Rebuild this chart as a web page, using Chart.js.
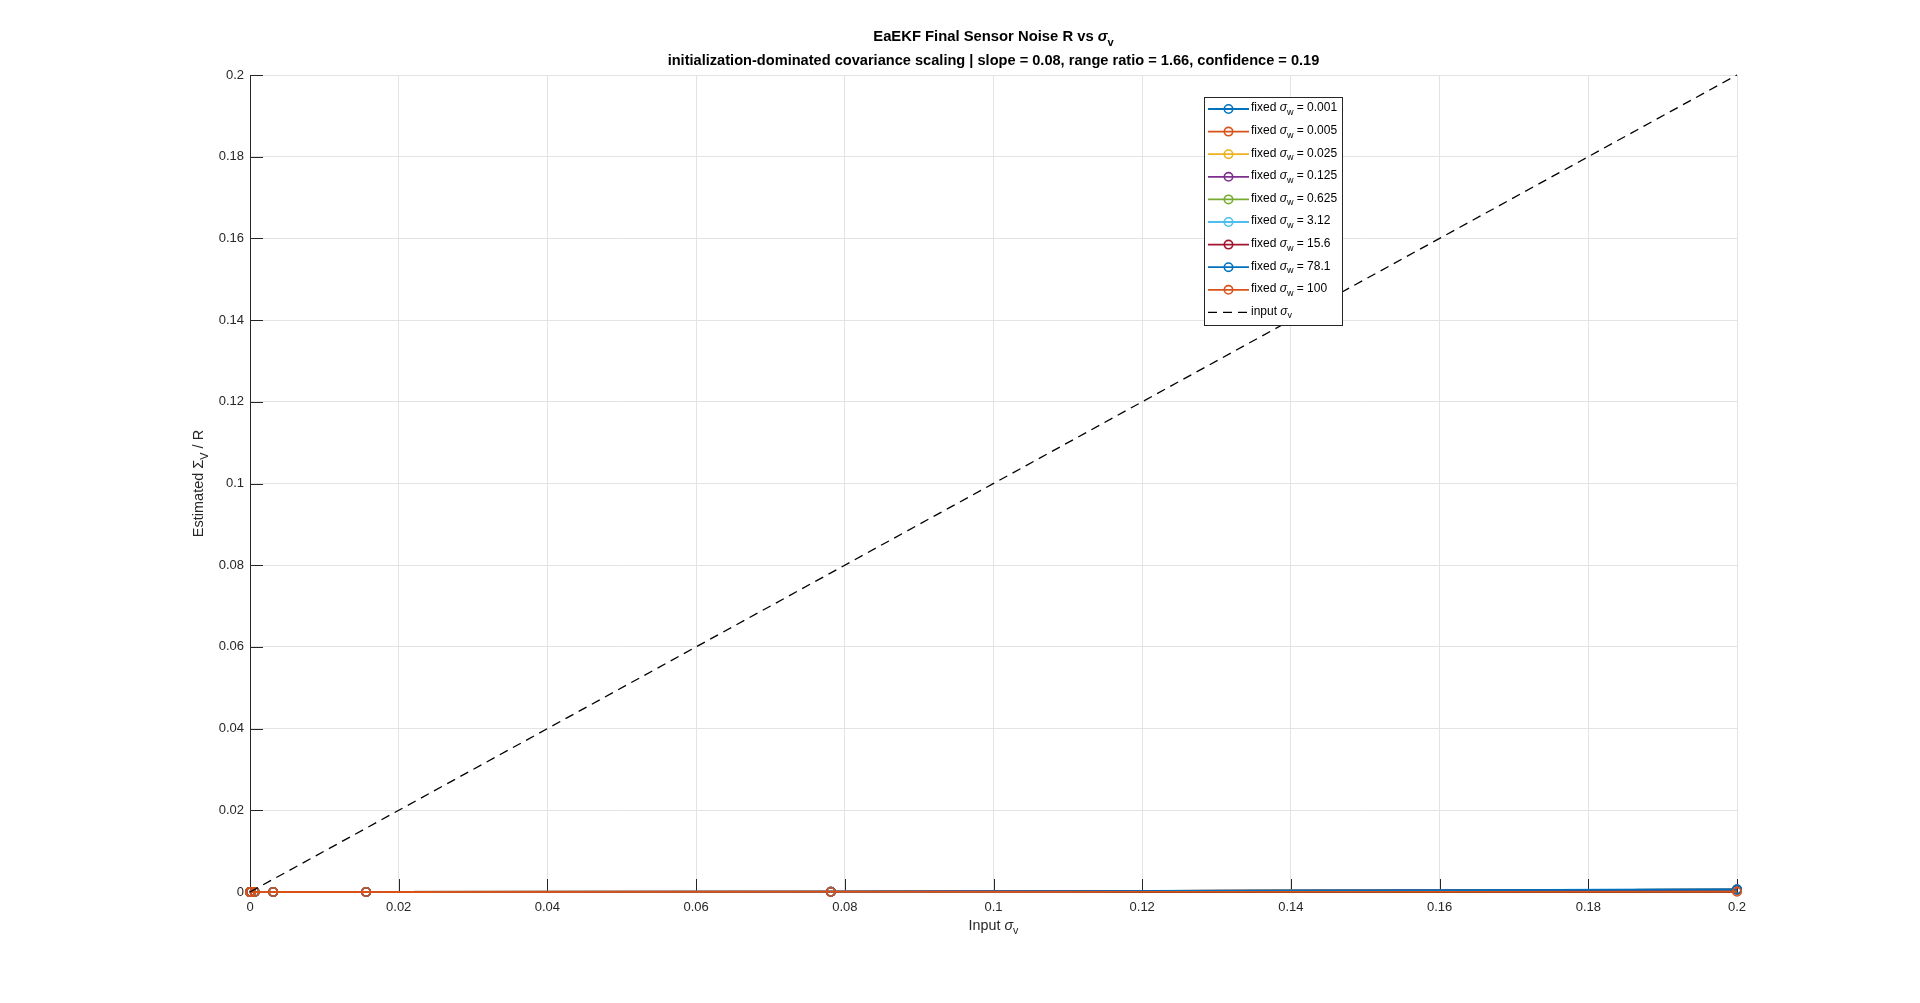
<!DOCTYPE html>
<html>
<head>
<meta charset="utf-8">
<title>EaEKF Final Sensor Noise R vs sigma_v</title>
<script src="https://cdn.jsdelivr.net/npm/chart.js@4.4.1/dist/chart.umd.min.js"></script>
<style>
  html, body { margin: 0; padding: 0; background: #fff; }
  canvas { display: block; }
</style>
</head>
<body>
<canvas id="chart" width="1920" height="1003"></canvas>
<script>
// input sensor noise levels (x axis)
const sigmaV = [0.000001, 0.000005, 0.000025, 0.000125, 0.000625, 0.003125, 0.015625, 0.078125, 0.2];

// fixed process noise per curve
const sigmaW = ['0.001', '0.005', '0.025', '0.125', '0.625', '3.12', '15.6', '78.1', '100'];

// estimated R per curve (all close to zero)
const rW0001 = [0, 0, 0, 0.000001, 0.000002, 0.000005, 0.00002, 0.00006, 0.00058];
const rW0005 = [0, 0, 0, 0.000001, 0.000002, 0.000005, 0.00002, 0.00006, 0.00057];
const rW0025 = [0, 0, 0, 0.000001, 0.000002, 0.000005, 0.00002, 0.00006, 0.00056];
const rW0125 = [0, 0, 0, 0.000001, 0.000002, 0.000005, 0.00002, 0.00006, 0.00055];
const rW0625 = [0, 0, 0, 0.000001, 0.000002, 0.000005, 0.00002, 0.00006, 0.00058];
const rW312  = [0, 0, 0, 0.000001, 0.000002, 0.000006, 0.00003, 0.00008, 0.00066];
const rW156  = [0, 0, 0, 0.000001, 0.000002, 0.000005, 0.00002, 0.00006, 0.00060];
const rW781  = [0, 0, 0, 0.000001, 0.000002, 0.000005, 0.00002, 0.00005, 0.00062];
const rW100  = [0, 0, 0, 0, 0.000001, 0.000002, 0.000004, 0.00001, 0.00004];
const rSeries = [rW0001, rW0005, rW0025, rW0125, rW0625, rW312, rW156, rW781, rW100];

// axis ticks
const xTicks = [0, 0.02, 0.04, 0.06, 0.08, 0.1, 0.12, 0.14, 0.16, 0.18, 0.2];
const yTicks = [0, 0.02, 0.04, 0.06, 0.08, 0.1, 0.12, 0.14, 0.16, 0.18, 0.2];

const colors = ['#0072BD', '#D95319', '#EDB120', '#7E2F8E', '#77AC30', '#4DBEEE', '#A2142F', '#0072BD', '#D95319'];
const FONT = "'Liberation Sans', Arial, Helvetica, sans-serif";
const TEXT = '#262626';

const datasets = sigmaW.map((w, i) => ({
  label: 'fixed σw = ' + w,
  data: sigmaV.map((x, j) => ({ x: x, y: rSeries[i][j] })),
  borderColor: colors[i],
  backgroundColor: 'rgba(0,0,0,0)',
  borderWidth: 1.8,
  pointRadius: 4.2,
  pointBorderWidth: 1.6,
  pointBorderColor: colors[i],
  pointBackgroundColor: 'rgba(0,0,0,0)',
  tension: 0,
  clip: false,
  order: sigmaW.length + 1 - i
}));

datasets.push({
  label: 'input σv',
  data: sigmaV.map(x => ({ x: x, y: x })),
  borderColor: '#000',
  backgroundColor: 'rgba(0,0,0,0)',
  borderWidth: 1.3,
  borderDash: [9, 6],
  pointRadius: 0,
  tension: 0,
  clip: false,
  order: 0
});

// draws text pieces with italic sigma and subscripts
function fontOf(p, size, bold) {
  const s = p.sub ? size * 0.75 : size;
  return (p.it ? 'italic ' : '') + (bold ? 'bold ' : '') + s + 'px ' + FONT;
}
function richWidth(ctx, parts, size, bold) {
  let w = 0;
  parts.forEach(p => {
    ctx.font = fontOf(p, size, bold);
    w += ctx.measureText(p.t).width;
  });
  return w;
}
function drawRich(ctx, parts, x, y, size, bold, align) {
  const total = richWidth(ctx, parts, size, bold);
  let cx = align === 'center' ? x - total / 2 : x;
  ctx.textAlign = 'left';
  ctx.textBaseline = 'middle';
  parts.forEach(p => {
    ctx.font = fontOf(p, size, bold);
    ctx.fillText(p.t, cx, p.sub ? y + size * 0.38 : y);
    cx += ctx.measureText(p.t).width;
  });
}

const innerTicks = {
  id: 'innerTicks',
  beforeDatasetsDraw(chart) {
    const ctx = chart.ctx, ca = chart.chartArea;
    const xs = chart.scales.x, ys = chart.scales.y;
    ctx.save();
    ctx.strokeStyle = TEXT;
    ctx.lineWidth = 1;
    ctx.beginPath();
    xTicks.forEach(v => {
      const px = Math.round(xs.getPixelForValue(v)) + 0.5;
      ctx.moveTo(px, ca.bottom);
      ctx.lineTo(px, ca.bottom - 13);
    });
    yTicks.forEach(v => {
      const py = Math.round(ys.getPixelForValue(v)) + 0.5;
      ctx.moveTo(ca.left, py);
      ctx.lineTo(ca.left + 13, py);
    });
    ctx.stroke();
    ctx.restore();
  }
};

const decorations = {
  id: 'decorations',
  afterDraw(chart) {
    const ctx = chart.ctx, ca = chart.chartArea;
    const midX = (ca.left + ca.right) / 2;
    ctx.save();
    ctx.fillStyle = '#000';

    // title and subtitle
    drawRich(ctx, [{ t: 'EaEKF Final Sensor Noise R vs ' }, { t: 'σ', it: true }, { t: 'v', sub: true }],
      midX, ca.top - 38, 14.8, true, 'center');
    drawRich(ctx, [{ t: 'initialization-dominated covariance scaling | slope = 0.08, range ratio = 1.66, confidence = 0.19' }],
      midX, ca.top - 14, 14.6, true, 'center');

    // axis labels
    ctx.fillStyle = TEXT;
    drawRich(ctx, [{ t: 'Input ' }, { t: 'σ', it: true }, { t: 'v', sub: true }],
      midX, ca.bottom + 34, 14.3, false, 'center');
    ctx.save();
    ctx.translate(ca.left - 51, (ca.top + ca.bottom) / 2);
    ctx.rotate(-Math.PI / 2);
    drawRich(ctx, [{ t: 'Estimated ' }, { t: 'Σ' }, { t: 'V', sub: true }, { t: ' / R' }],
      0, 0, 14.5, false, 'center');
    ctx.restore();

    // legend box
    const bx = ca.left + 954, by = ca.top + 22, bw = 138, bh = 228;
    const rowH = 22.6;
    ctx.fillStyle = '#fff';
    ctx.fillRect(bx, by, bw, bh);
    ctx.strokeStyle = TEXT;
    ctx.lineWidth = 1;
    ctx.strokeRect(bx + 0.5, by + 0.5, bw, bh);

    chart.data.datasets.forEach((ds, i) => {
      const ry = by + 12 + i * rowH;
      ctx.save();
      ctx.strokeStyle = ds.borderColor;
      ctx.lineWidth = ds.borderWidth;
      ctx.setLineDash(ds.borderDash || []);
      ctx.beginPath();
      ctx.moveTo(bx + 4, ry);
      ctx.lineTo(bx + 45, ry);
      ctx.stroke();
      ctx.setLineDash([]);
      if (ds.pointRadius > 0) {
        ctx.lineWidth = ds.pointBorderWidth;
        ctx.beginPath();
        ctx.arc(bx + 24.5, ry, ds.pointRadius, 0, Math.PI * 2);
        ctx.stroke();
      }
      ctx.restore();
      ctx.fillStyle = '#000';
      const parts = i < sigmaW.length
        ? [{ t: 'fixed ' }, { t: 'σ', it: true }, { t: 'w', sub: true }, { t: ' = ' + sigmaW[i] }]
        : [{ t: 'input ' }, { t: 'σ', it: true }, { t: 'v', sub: true }];
      drawRich(ctx, parts, bx + 47, ry - 1, 12, false, 'left');
    });
    ctx.restore();
  }
};

new Chart(document.getElementById('chart'), {
  type: 'line',
  data: { datasets: datasets },
  options: {
    responsive: false,
    animation: false,
    devicePixelRatio: 1,
    events: [],
    layout: { padding: { top: 75, right: 183, left: 0, bottom: 0 } },
    plugins: {
      legend: { display: false },
      title: { display: false },
      tooltip: { enabled: false }
    },
    scales: {
      x: {
        type: 'linear',
        min: 0,
        max: 0.2,
        afterBuildTicks: s => { s.ticks = xTicks.map(v => ({ value: v })); },
        afterFit: s => { s.height = 111; },
        ticks: {
          color: TEXT,
          font: { family: FONT, size: 13 },
          padding: 8,
          maxRotation: 0,
          autoSkip: false,
          callback: v => String(v)
        },
        grid: { color: '#e3e3e3', lineWidth: 1, drawTicks: false },
        border: { color: TEXT, width: 1 }
      },
      y: {
        type: 'linear',
        min: 0,
        max: 0.2,
        afterBuildTicks: s => { s.ticks = yTicks.map(v => ({ value: v })); },
        afterFit: s => { s.width = 250; },
        ticks: {
          color: TEXT,
          font: { family: FONT, size: 13 },
          padding: 6,
          autoSkip: false,
          callback: v => String(v)
        },
        grid: { color: '#e3e3e3', lineWidth: 1, drawTicks: false },
        border: { color: TEXT, width: 1 }
      }
    }
  },
  plugins: [innerTicks, decorations]
});
</script>
</body>
</html>
